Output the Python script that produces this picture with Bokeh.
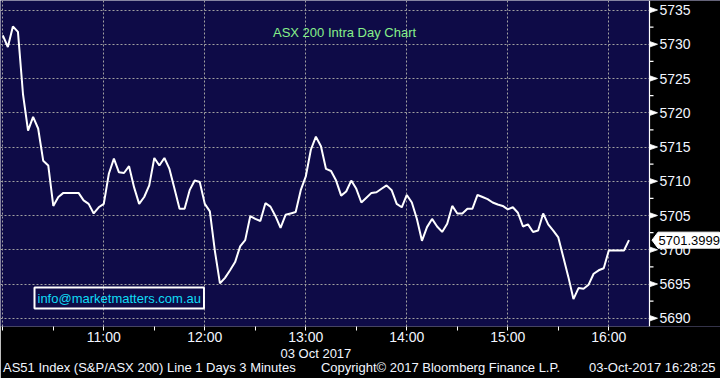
from bokeh.plotting import figure
from bokeh.models import FixedTicker, Label, Title, ColumnDataSource
from bokeh.core.properties import value
from bokeh.embed import file_html
from bokeh.resources import INLINE

# ---- data (ASX 200, 3-minute closes, 03 Oct 2017) ----
interval_min = 3
values = [
    5731.3, 5729.6, 5732.6, 5731.8, 5722.7, 5717.4, 5719.4, 5717.7, 5713.0, 5712.3,
    5706.4, 5707.7, 5708.3, 5708.3, 5708.3, 5708.3, 5707.2, 5706.7, 5705.3, 5706.2,
    5706.7, 5711.1, 5713.3, 5711.3, 5711.2, 5712.2, 5709.1, 5706.7, 5707.7, 5709.4,
    5713.4, 5712.3, 5713.4, 5711.8, 5708.9, 5706.0, 5706.0, 5708.7, 5710.1, 5709.9,
    5706.7, 5705.6, 5699.8, 5695.1, 5695.9, 5697.0, 5698.2, 5700.5, 5701.4, 5704.9,
    5704.5, 5704.2, 5706.8, 5706.3, 5704.9, 5703.2, 5705.1, 5705.3, 5705.5, 5708.7,
    5710.7, 5714.6, 5716.5, 5715.1, 5711.8, 5711.5, 5710.1, 5707.9, 5708.5, 5710.1,
    5708.9, 5706.9, 5707.6, 5708.3, 5708.4, 5708.9, 5709.4, 5708.7, 5706.7, 5706.2,
    5708.0, 5706.9, 5704.5, 5701.3, 5703.3, 5704.5, 5703.4, 5702.6, 5703.8, 5706.4,
    5705.3, 5705.3, 5706.0, 5706.0, 5708.0, 5707.7, 5707.4, 5706.9, 5706.6, 5706.4,
    5705.9, 5706.2, 5705.4, 5703.4, 5703.7, 5702.6, 5702.8, 5705.3, 5703.7, 5702.8,
    5701.8, 5698.9, 5696.0, 5692.8, 5694.4, 5694.3, 5694.9, 5696.5, 5697.0, 5697.3,
    5699.9, 5699.9, 5699.9, 5699.9, 5701.4,
]
last_value = 5701.3999
last_price = "5701.3999"
y_ticks = [5690, 5695, 5700, 5705, 5710, 5715, 5720, 5725, 5730, 5735]
x_tick_labels = ["11:00", "12:00", "13:00", "14:00", "15:00", "16:00"]
title_text = "ASX 200 Intra Day Chart"
email_text = "info@marketmatters.com.au"
date_text = "03 Oct 2017"
footer_parts = ["AS51 Index (S&P/ASX 200) Line 1 Days 3 Minutes",
                "Copyright\u00a9 2017 Bloomberg Finance L.P.",
                "03-Oct-2017 16:28:25"]

minutes = [i * interval_min for i in range(len(values))]  # minutes after 10:00

# ---- layout constants (pixels) ----
W, H = 720, 378
AXIS_PX = 649   # price axis position
FRAME_B = 326   # bottom of the plotting frame
PX_PER_MIN = 101.0 / 60.0
X0_PX = 2.3          # pixel of 10:00
Y_REF_PX, Y_REF_V, PX_PER_UNIT = 9.5, 5735.0, 6.85

def tx(px):
    return (px - X0_PX) / PX_PER_MIN

def vy(py):
    return Y_REF_V - (py - Y_REF_PX) / PX_PER_UNIT

def dv(dpx):
    return dpx / PX_PER_UNIT

x_range = (tx(0), tx(W))
y_range = (vy(FRAME_B), vy(0))

BG = "#0e0b47"
FONT = "Liberation Sans"
WHITE = "#f2f6ff"
GRID = "#a0a0a0"

p = figure(width=W, height=H, x_range=x_range, y_range=y_range,
           toolbar_location=None, y_axis_location="left",
           output_backend="svg", min_border_left=0, min_border_right=0,
           min_border_top=0, min_border_bottom=H - FRAME_B)
p.background_fill_color = BG
p.border_fill_color = "black"
p.outline_line_color = None
# the y axis only drives the horizontal grid; the price scale is drawn at the right edge
p.yaxis.ticker = FixedTicker(ticks=y_ticks)
p.yaxis.visible = False

# x axis (real bokeh axis, below)
hour_ticks = [60 * (i + 1) for i in range(len(x_tick_labels))]
half_ticks = [30 * i for i in range(0, 13)]
xa = p.xaxis[0]
xa.ticker = FixedTicker(ticks=half_ticks, minor_ticks=[])
overrides = {t: "" for t in half_ticks}
overrides.update({t: lab for t, lab in zip(hour_ticks, x_tick_labels)})
xa.major_label_overrides = overrides
xa.axis_line_color = None
xa.major_tick_line_color = "white"
xa.major_tick_in = 0
xa.major_tick_out = 4
xa.major_label_standoff = -2
xa.major_label_text_color = WHITE
xa.major_label_text_font = FONT
xa.major_label_text_font_size = "14px"

# grids
p.xgrid.ticker = FixedTicker(ticks=[0] + hour_ticks)
p.ygrid.ticker = FixedTicker(ticks=y_ticks)
for g in list(p.xgrid) + list(p.ygrid):
    g.grid_line_color = GRID
    g.grid_line_dash = "2 2"
    g.grid_line_width = 1

# black strip right of the price axis (glyph, drawn over the grid lines)
p.quad(left=[tx(AXIS_PX)], right=[x_range[1]], bottom=[y_range[0]], top=[y_range[1]],
       fill_color="black", fill_alpha=1.0, line_color=None)

n = len(y_ticks)
# price axis on the right: axis line, arrow ticks, minor ticks, labels
p.segment(x0=[tx(AXIS_PX)], x1=[tx(AXIS_PX)], y0=[y_range[0]], y1=[y_range[1]],
          line_color="white", line_width=1.2)
minor = [t + 2.5 for t in y_ticks[:-1]]
p.segment(x0=[tx(AXIS_PX)] * len(minor), x1=[tx(AXIS_PX + 4)] * len(minor),
          y0=minor, y1=minor, line_color="white", line_width=1.2)
p.patches(xs=[[tx(AXIS_PX), tx(AXIS_PX + 8), tx(AXIS_PX)] for _ in y_ticks],
          ys=[[t + dv(2.8), t, t - dv(2.8)] for t in y_ticks],
          fill_color="white", line_color="white", line_width=0.8)
p.text(x=[tx(AXIS_PX + 10)] * n, y=y_ticks, text=[str(t) for t in y_ticks],
       text_color=WHITE, text_font=value(FONT), text_font_size="14px",
       text_baseline="middle", text_align="left")

# price line
src = ColumnDataSource(dict(t=minutes, v=values))
p.line("t", "v", source=src, line_color="white", line_width=2)

# last price tag
hh = dv(8)
p.patch(x=[tx(AXIS_PX + 2.5), tx(AXIS_PX + 8.5), tx(W - 1), tx(W - 1), tx(AXIS_PX + 8.5)],
        y=[last_value, last_value + hh, last_value + hh, last_value - hh, last_value - hh],
        fill_color="white", line_color="white")
p.text(x=[tx(AXIS_PX + 9)], y=[last_value], text=[last_price], text_color="black",
       text_font=value(FONT), text_font_size="13px", text_baseline="middle",
       text_align="left")

# chart title
p.add_layout(Label(x=tx(272.5), y=vy(31.5), text=title_text, text_color="#86f08a",
                   text_font=FONT, text_font_size="13px", text_baseline="middle",
                   text_align="left"))

# email box
p.add_layout(Label(x=tx(34), y=vy(297.5), text=email_text, text_color="#10dcf5",
                   text_font=FONT, text_font_size="13px", text_baseline="middle",
                   text_align="left", border_line_color="white", border_line_width=2,
                   padding=3))

# date and footer as titles below the x axis
p.add_layout(Title(text=date_text, align="left", offset=280, standoff=-7,
                   text_color=WHITE, text_font=FONT, text_font_size="13px",
                   text_font_style="normal"), "below")
NB = "\u00a0"
footer_text = footer_parts[0] + NB * 7 + footer_parts[1] + NB * 8 + footer_parts[2]
p.add_layout(Title(text=footer_text, align="left", offset=2.5, standoff=0,
                   text_color=WHITE, text_font=FONT, text_font_size="13px",
                   text_font_style="normal"), "below")

open("out.html", "w").write(file_html(p, INLINE))
